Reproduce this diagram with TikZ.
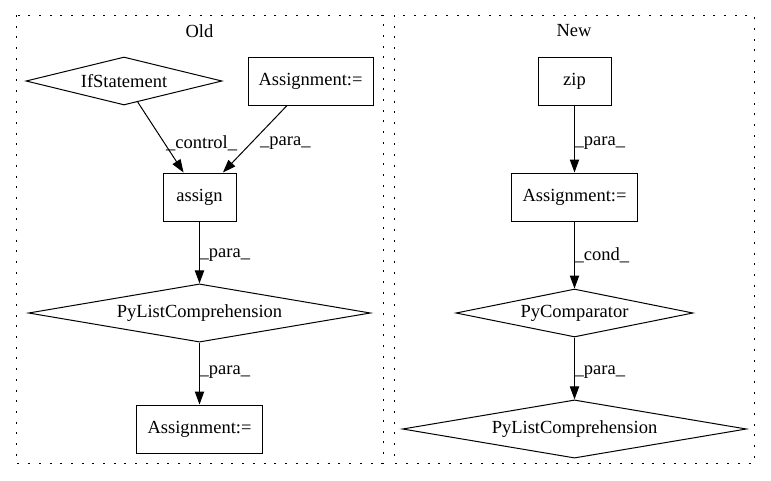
\documentclass[tikz,border=0pt]{standalone}
\usepackage{fontspec}
\setmainfont{Liberation Serif}
\usetikzlibrary{shapes.geometric,arrows.meta}
\begin{document}
\begin{tikzpicture}[x=1pt,y=-1pt,
  font=\fontsize{18.5}{21}\selectfont,
  box/.style={draw, rectangle, line width=1pt, inner sep=0pt, minimum height=48pt},
  dia/.style={draw, diamond, aspect=4, line width=1pt, inner sep=0pt, minimum height=48pt},
  lbl/.style={anchor=west, inner sep=0pt},
  edge/.style={-{Triangle[length=13pt,width=9.3pt]}, line width=1pt},
  cluster/.style={draw, line width=1pt, dash pattern=on 2pt off 8.7pt}]
\useasboundingbox (0,0) rectangle (771,480);

% clusters
\draw[cluster] (16,15) rectangle (383,463);
\draw[cluster] (394,15) rectangle (754,463);
\node (oldlbl) at (199.5,31) {Old};
\node (newlbl) at (574,31) {New};

% Old
\node[dia, minimum width=196pt] (if) at (124,81) {IfStatement};
\node[box, minimum width=125pt] (a1) at (310.5,81) {Assignment:=};
\node[box, minimum width=73pt] (as) at (199.5,197) {assign};
\node[dia, minimum width=342pt] (plc1) at (199.5,313) {PyListComprehension};
\node[box, minimum width=126pt] (a2) at (199.5,429) {Assignment:=};

\draw[edge] (if) -- (as);
\draw[edge] (a1) -- (as);
\draw[edge] (as) -- (plc1);
\draw[edge] (plc1) -- (a2);

\node[lbl] (l1) at (166,143) {\_control\_};
\node[lbl] (l2) at (260,143) {\_para\_};
\node[lbl] (l3) at (199.5,255) {\_para\_};
\node[lbl] (l4) at (199.5,372) {\_para\_};

% New
\node[box, minimum width=73pt] (zip) at (574.5,81) {zip};
\node[box, minimum width=126pt] (a3) at (574.5,197) {Assignment:=};
\node[dia, minimum width=237pt] (pyc) at (574.5,313) {PyComparator};
\node[dia, minimum width=344pt] (plc2) at (574.5,429) {PyListComprehension};

\draw[edge] (zip) -- (a3);
\draw[edge] (a3) -- (pyc);
\draw[edge] (pyc) -- (plc2);

\node[lbl] (l5) at (574.5,143) {\_para\_};
\node[lbl] (l6) at (574.5,255) {\_cond\_};
\node[lbl] (l7) at (574.5,372) {\_para\_};
\end{tikzpicture}
\end{document}
